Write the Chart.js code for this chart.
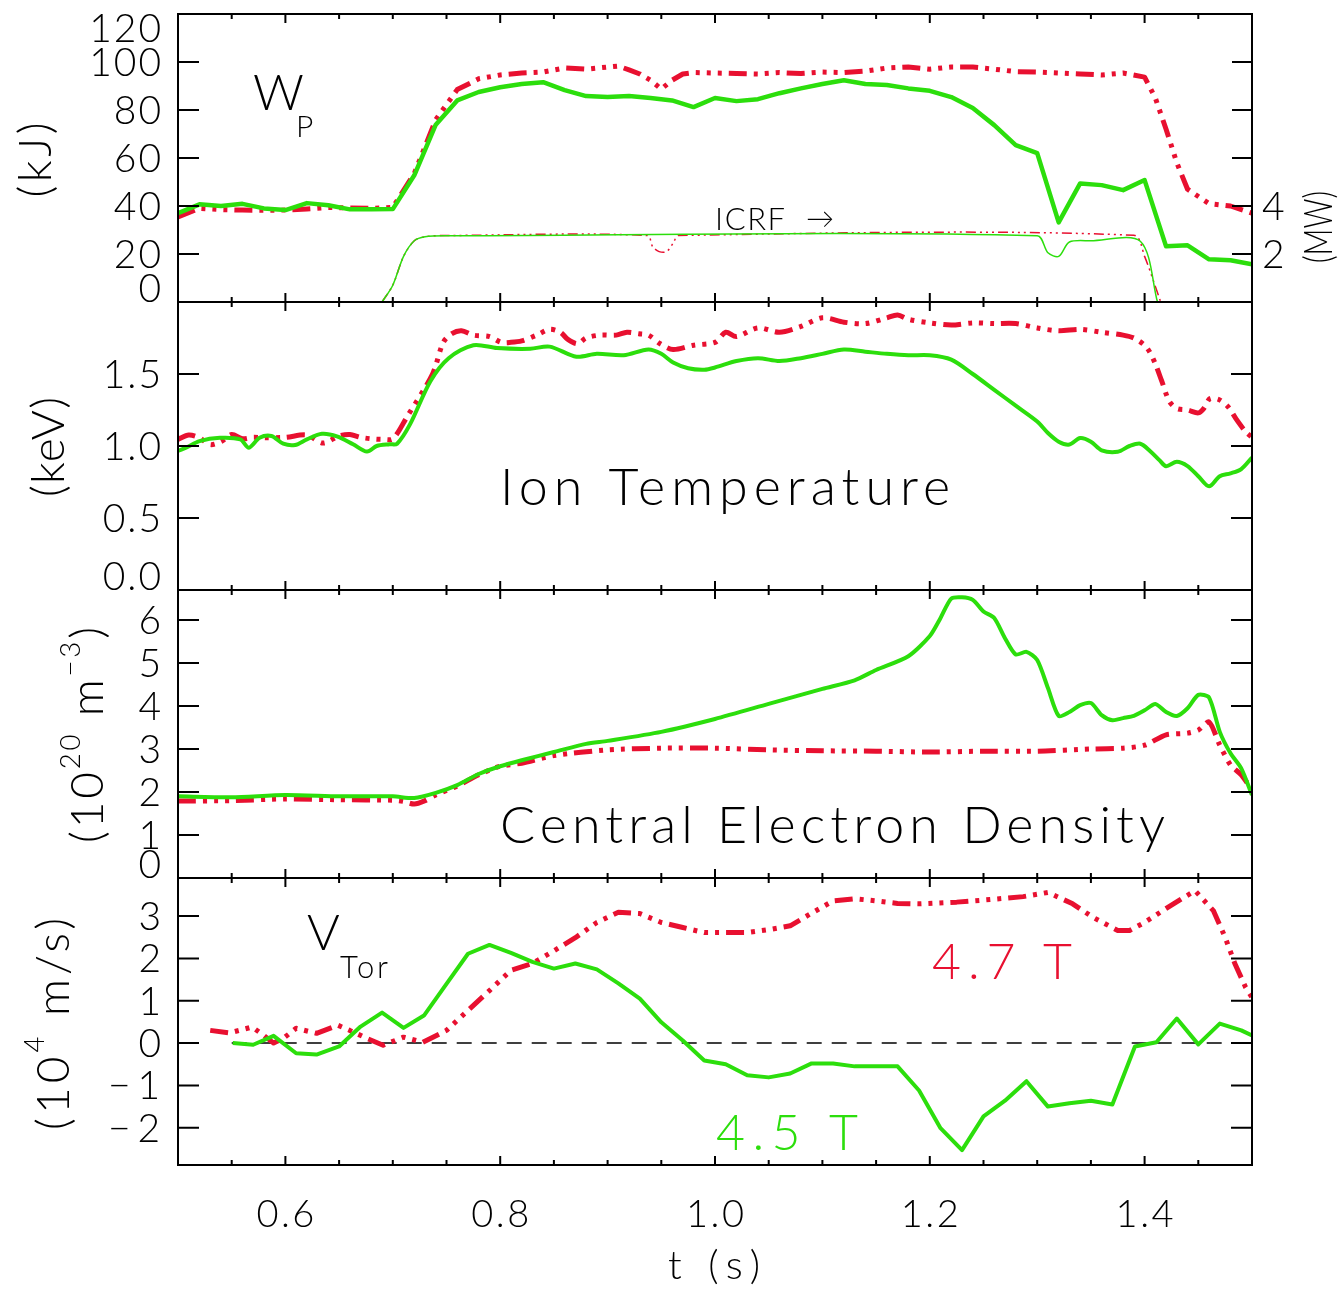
<!DOCTYPE html>
<html>
<head>
<meta charset="utf-8">
<script src="https://cdn.jsdelivr.net/npm/chart.js@4.4.1/dist/chart.umd.min.js"></script>
<style>
  html, body { margin: 0; padding: 0; background: #fff; }
  #wrap { position: relative; width: 1342px; height: 1291px; }
  #wrap canvas { position: absolute; left: 0; top: 0; }
</style>
</head>
<body>
<div id="wrap">
  <canvas id="c1" width="1342" height="1291"></canvas>
  <canvas id="c2" width="1342" height="1291"></canvas>
  <canvas id="c3" width="1342" height="1291"></canvas>
  <canvas id="c4" width="1342" height="1291"></canvas>
</div>
<script>
// ---- data ----
// stored energy W_P (kJ), 4.5 T shot (green)
const wpTime45 = [0.50,0.52,0.54,0.56,0.58,0.60,0.62,0.64,0.66,0.68,0.70,0.72,0.74,0.76,0.78,0.80,0.82,0.84,0.86,0.88,0.90,0.92,0.94,0.96,0.98,1.00,1.02,1.04,1.06,1.08,1.10,1.12,1.14,1.16,1.18,1.20,1.22,1.24,1.26,1.28,1.30,1.32,1.34,1.36,1.38,1.40,1.42,1.44,1.46,1.48,1.50];
const wp45 = [37,40.7,40,40.9,39,38.3,41.2,40.3,38.6,38.6,38.7,52.8,73.9,84,87.5,89.5,90.8,91.6,88.3,85.8,85.4,85.8,85,84,81.2,85,83.7,84.5,87,89,90.8,92.4,90.8,90.4,89,88,85.4,80.8,73.7,65.4,62,33.2,49.4,48.7,46.6,50.8,23.2,23.6,17.8,17.4,15.7];
// stored energy, 4.7 T shot (red)
const wpTime47 = [0.50,0.52,0.54,0.56,0.58,0.60,0.62,0.64,0.66,0.68,0.70,0.72,0.74,0.76,0.78,0.80,0.82,0.84,0.86,0.88,0.90,0.91,0.92,0.93,0.94,0.95,0.96,0.97,0.98,1.00,1.02,1.04,1.06,1.08,1.10,1.12,1.14,1.16,1.18,1.20,1.22,1.24,1.26,1.28,1.30,1.32,1.34,1.36,1.38,1.40,1.41,1.42,1.43,1.44,1.46,1.48,1.50];
const wp47 = [35.5,39,38.5,38.3,38.2,38.3,38.8,39.4,39.2,39,39.4,53.5,76,88.5,93,94.6,95.4,95.8,97.5,97,97.9,98.3,96.7,95,92.4,88.7,92.4,95,95.6,95.4,95.2,95,95.6,95.2,95.8,95.6,96.2,97.5,97.9,97,97.9,97.9,97,96,95.8,95.4,95,94.6,95.4,93.7,85,72,58,47,41,40,37];
// ICRF power (MW)
const icrfTime45 = [0.69,0.70,0.71,0.72,0.73,0.75,1.30,1.31,1.32,1.33,1.35,1.396,1.412];
const icrf45 = [0,0.7,1.9,2.55,2.72,2.76,2.76,2.05,1.9,2.5,2.55,2.53,0];
const icrfTime47 = [0.69,0.70,0.71,0.72,0.73,0.75,0.937,0.942,0.948,0.955,0.961,0.966,1.39,1.40,1.415];
const icrf47 = [0,0.7,1.9,2.55,2.72,2.77,2.77,2.3,2.1,2.1,2.45,2.77,2.78,1.9,0];

// ion temperature (keV)
const tiTime45 = [0.50,0.508,0.52,0.539,0.558,0.566,0.576,0.587,0.598,0.609,0.62,0.634,0.648,0.663,0.676,0.685,0.697,0.704,0.716,0.735,0.752,0.775,0.797,0.828,0.846,0.871,0.89,0.915,0.938,0.95,0.961,0.975,0.99,1.00,1.02,1.04,1.06,1.08,1.10,1.12,1.14,1.16,1.18,1.20,1.22,1.24,1.26,1.28,1.30,1.31,1.32,1.33,1.34,1.35,1.36,1.375,1.386,1.396,1.405,1.414,1.42,1.43,1.44,1.45,1.46,1.47,1.48,1.49,1.50];
const ti45 = [0.966,0.99,1.034,1.057,1.046,0.988,1.057,1.069,1.016,1.007,1.046,1.085,1.067,1.012,0.961,1.0,1.012,1.016,1.15,1.45,1.61,1.70,1.68,1.675,1.69,1.62,1.64,1.63,1.67,1.64,1.58,1.54,1.53,1.545,1.59,1.61,1.59,1.61,1.64,1.67,1.655,1.64,1.63,1.63,1.60,1.50,1.39,1.28,1.17,1.09,1.03,1.01,1.055,1.03,0.97,0.96,1.0,1.016,0.966,0.90,0.86,0.89,0.86,0.79,0.72,0.79,0.81,0.84,0.92];
const tiTime47 = [0.50,0.51,0.52,0.53,0.54,0.55,0.56,0.57,0.58,0.60,0.62,0.635,0.65,0.66,0.67,0.68,0.69,0.70,0.713,0.737,0.747,0.755,0.764,0.775,0.79,0.801,0.81,0.82,0.834,0.846,0.856,0.863,0.872,0.88,0.893,0.908,0.918,0.929,0.938,0.949,0.961,0.98,1.00,1.01,1.02,1.04,1.06,1.08,1.10,1.12,1.14,1.16,1.17,1.18,1.20,1.22,1.24,1.26,1.28,1.30,1.32,1.34,1.36,1.38,1.39,1.40,1.405,1.41,1.416,1.423,1.43,1.44,1.45,1.455,1.461,1.47,1.478,1.485,1.494,1.50];
const ti47 = [1.046,1.076,1.057,1.01,1.03,1.08,1.05,1.06,1.057,1.06,1.076,1.02,1.07,1.08,1.06,1.05,1.046,1.05,1.2,1.5,1.72,1.78,1.80,1.77,1.76,1.72,1.72,1.73,1.77,1.81,1.79,1.74,1.71,1.75,1.77,1.77,1.79,1.78,1.77,1.71,1.67,1.70,1.72,1.79,1.76,1.82,1.79,1.83,1.89,1.86,1.85,1.89,1.91,1.88,1.855,1.84,1.855,1.85,1.85,1.82,1.80,1.81,1.79,1.77,1.75,1.70,1.65,1.57,1.45,1.31,1.26,1.25,1.23,1.26,1.33,1.32,1.27,1.19,1.10,1.06];

// central electron density (1e20 m^-3)
const neTime45 = [0.50,0.55,0.60,0.65,0.70,0.72,0.74,0.76,0.78,0.80,0.82,0.85,0.88,0.90,0.95,1.00,1.05,1.10,1.13,1.15,1.18,1.20,1.21,1.22,1.23,1.24,1.25,1.26,1.27,1.28,1.29,1.30,1.31,1.32,1.33,1.34,1.35,1.36,1.37,1.38,1.39,1.40,1.41,1.42,1.43,1.44,1.45,1.46,1.47,1.48,1.49,1.50];
const ne45 = [1.9,1.88,1.93,1.9,1.9,1.86,1.98,2.16,2.42,2.6,2.74,2.93,3.12,3.19,3.4,3.7,4.05,4.4,4.6,4.84,5.16,5.63,6.05,6.5,6.53,6.47,6.2,6.05,5.58,5.2,5.26,5.07,4.42,3.77,3.86,4.02,4.07,3.79,3.67,3.72,3.77,3.9,4.05,3.86,3.77,3.95,4.26,4.2,3.4,2.9,2.55,1.93];
const neTime47 = [0.50,0.55,0.60,0.65,0.70,0.71,0.72,0.73,0.74,0.76,0.78,0.80,0.82,0.85,0.90,0.95,1.00,1.05,1.10,1.15,1.20,1.25,1.30,1.35,1.38,1.40,1.42,1.44,1.45,1.46,1.47,1.48,1.49,1.50];
const ne47 = [1.79,1.80,1.84,1.82,1.81,1.78,1.72,1.8,1.93,2.14,2.4,2.6,2.67,2.85,2.98,3.02,3.02,2.98,2.96,2.95,2.93,2.95,2.95,3.0,3.02,3.09,3.33,3.37,3.44,3.63,3.09,2.63,2.4,2.05];

// toroidal rotation (1e4 m/s)
const vTime45 = [0.551,0.57,0.589,0.61,0.629,0.65,0.67,0.69,0.71,0.729,0.75,0.77,0.79,0.81,0.83,0.85,0.87,0.89,0.91,0.93,0.95,0.97,0.99,1.01,1.03,1.05,1.07,1.09,1.11,1.13,1.15,1.17,1.19,1.21,1.23,1.25,1.27,1.29,1.31,1.33,1.35,1.37,1.391,1.411,1.43,1.45,1.47,1.49,1.50];
const v45 = [0,-0.04,0.17,-0.24,-0.27,-0.08,0.39,0.72,0.36,0.65,1.4,2.11,2.32,2.13,1.92,1.76,1.88,1.74,1.41,1.05,0.49,0.06,-0.41,-0.5,-0.76,-0.81,-0.72,-0.48,-0.48,-0.55,-0.55,-0.55,-1.12,-2.01,-2.53,-1.73,-1.36,-0.9,-1.5,-1.42,-1.36,-1.45,-0.08,0.02,0.58,-0.03,0.46,0.3,0.18];
const vTime47 = [0.53,0.548,0.569,0.579,0.589,0.598,0.61,0.629,0.649,0.66,0.676,0.691,0.71,0.728,0.75,0.77,0.79,0.81,0.83,0.85,0.87,0.89,0.91,0.93,0.95,0.97,0.99,1.01,1.03,1.05,1.07,1.09,1.11,1.13,1.15,1.17,1.19,1.225,1.256,1.287,1.31,1.333,1.352,1.375,1.386,1.40,1.417,1.434,1.447,1.464,1.475,1.484,1.494,1.50];
const v47 = [0.3,0.24,0.38,0.2,0,0.11,0.35,0.23,0.42,0.3,0.11,-0.05,0.14,0.02,0.3,0.77,1.24,1.72,1.88,2.18,2.49,2.85,3.09,3.06,2.85,2.73,2.61,2.61,2.61,2.68,2.77,3.07,3.36,3.41,3.36,3.3,3.29,3.33,3.39,3.46,3.56,3.29,2.97,2.66,2.66,2.85,3.13,3.4,3.6,3.13,2.5,1.88,1.32,1.08];
const zeroTime = [0.55, 1.5];
const zeroLine = [0, 0];

// ticks
const tMajor = [0.6, 0.8, 1.0, 1.2, 1.4];
const tMinor = [0.55,0.65,0.7,0.75,0.85,0.9,0.95,1.05,1.1,1.15,1.25,1.3,1.35,1.45];
const wpTicks = [0, 20, 40, 60, 80, 100, 120];
const mwTicks = [2, 4, 6, 8, 10];
const mwLabels = [2, 4];
const tiTicks = [0, 0.5, 1.0, 1.5];
const neTicks = [0, 1, 2, 3, 4, 5, 6];
const vTicks = [-2, -1, 0, 1, 2, 3];

// ---- drawing setup ----
const FAM = 'Lato, "DejaVu Sans", sans-serif';
const RED = 'rgb(232, 16, 48)';
const GREEN = 'rgb(44, 222, 12)';
const DASH3 = [18, 7, 4, 7, 4, 7, 4, 7];
const W = 1342, H = 1291;

function pts(ts, vs) {
  return ts.map((t, i) => ({ x: t, y: vs[i] }));
}

function fitText(ctx, str, x, base, w, size, color) {
  ctx.save();
  ctx.font = `300 ${size}px ${FAM}`;
  ctx.letterSpacing = '0px';
  const m = ctx.measureText(str).width;
  const n = [...str].length;
  const ls = n > 1 ? (w - m) / (n - 1) : 0;
  ctx.letterSpacing = ls + 'px';
  ctx.fillStyle = color;
  ctx.textAlign = 'left';
  ctx.textBaseline = 'alphabetic';
  ctx.fillText(str, x, base);
  ctx.restore();
}

// rotated axis title, runs may be superscripts
function vTitle(ctx, runs, cx, cy, len, size, supRise) {
  ctx.save();
  ctx.translate(cx, cy);
  ctx.rotate(-Math.PI / 2);
  ctx.fillStyle = '#000';
  ctx.textBaseline = 'alphabetic';
  const supSize = size * 0.6;
  let total = 0, nch = 0;
  runs.forEach(r => {
    ctx.font = `300 ${r.sup ? supSize : size}px ${FAM}`;
    ctx.letterSpacing = '0px';
    r.w = ctx.measureText(r.t).width;
    total += r.w;
    nch += [...r.t].length;
  });
  let ls = (len - total) / Math.max(1, nch - 1);
  if (ls < 0) {
    // squeeze instead of overlapping glyphs
    ctx.scale(len / total, 1);
    len = total;
    ls = 0;
  }
  const base = size * 0.3;
  let x = -len / 2;
  runs.forEach(r => {
    ctx.font = `300 ${r.sup ? supSize : size}px ${FAM}`;
    ctx.letterSpacing = ls + 'px';
    ctx.fillText(r.t, x, r.sup ? base - size * supRise : base);
    x += r.w + ls * [...r.t].length;
  });
  ctx.restore();
}

function yLabel(ctx, str, y, top, bottom) {
  const size = 39;
  const c = Math.min(Math.max(y, top + 14), bottom - 14);
  const base = c + size * 0.36;
  if (str.startsWith('\u2212')) {
    fitText(ctx, str, 108, base, 52, size, '#000');
  } else {
    ctx.save();
    ctx.font = `300 ${size}px ${FAM}`;
    ctx.letterSpacing = '2px';
    const w = ctx.measureText(str).width - 2;
    ctx.fillStyle = '#000';
    ctx.textAlign = 'left';
    ctx.fillText(str, 161 - w, base);
    ctx.restore();
  }
}

function framePlugin(cfg) {
  return {
    id: 'frame' + cfg.id,
    afterDraw(chart) {
      const ctx = chart.ctx, a = chart.chartArea;
      const xs = chart.scales.x, ys = chart.scales.y;
      ctx.save();
      ctx.strokeStyle = '#000';
      ctx.lineWidth = 2;
      ctx.strokeRect(a.left, a.top, a.right - a.left, a.bottom - a.top);
      ctx.beginPath();
      tMinor.forEach(t => {
        const x = xs.getPixelForValue(t);
        ctx.moveTo(x, a.top); ctx.lineTo(x, a.top + 5);
        ctx.moveTo(x, a.bottom); ctx.lineTo(x, a.bottom - 5);
      });
      tMajor.forEach(t => {
        const x = xs.getPixelForValue(t);
        ctx.moveTo(x, a.top); ctx.lineTo(x, a.top + 9);
        ctx.moveTo(x, a.bottom); ctx.lineTo(x, a.bottom - 9);
      });
      cfg.ticks.forEach(v => {
        if (v <= ys.min + 1e-9 || v >= ys.max - 1e-9) return;
        const y = ys.getPixelForValue(v);
        ctx.moveTo(a.left, y); ctx.lineTo(a.left + 21, y);
        if (!cfg.mw) { ctx.moveTo(a.right, y); ctx.lineTo(a.right - 21, y); }
      });
      if (cfg.mw) {
        const yr = chart.scales.yr;
        mwTicks.forEach(v => {
          const y = yr.getPixelForValue(v);
          ctx.moveTo(a.right, y); ctx.lineTo(a.right - 20, y);
        });
      }
      ctx.stroke();

      cfg.ticks.forEach(v => {
        yLabel(ctx, cfg.fmt(v), ys.getPixelForValue(v), a.top, a.bottom);
      });
      if (cfg.mw) {
        const yr = chart.scales.yr;
        ctx.font = `300 39px ${FAM}`;
        ctx.fillStyle = '#000';
        ctx.textAlign = 'left';
        mwLabels.forEach(v => ctx.fillText(String(v), 1262, yr.getPixelForValue(v) + 14));
      }
      if (cfg.xLabels) {
        tMajor.forEach(t => {
          const x = xs.getPixelForValue(t);
          fitText(ctx, t.toFixed(1), x - 29, 1227, 58, 38, '#000');
        });
        fitText(ctx, 't (s)', 668, 1279, 92, 40, '#000');
      }
      cfg.extra(ctx);
      ctx.restore();
    }
  };
}

function makePanel(id, box, datasets, yMin, yMax, cfg) {
  const scales = {
    x: {
      type: 'linear', min: 0.5, max: 1.5,
      grid: { display: false }, border: { display: false }, ticks: { display: false },
      afterFit: s => { s.height = 0; }
    },
    y: {
      type: 'linear', position: 'left', min: yMin, max: yMax,
      grid: { display: false }, border: { display: false }, ticks: { display: false },
      afterFit: s => { s.width = 178; }
    }
  };
  if (cfg.mw) {
    scales.yr = {
      type: 'linear', position: 'right', min: 0, max: 12,
      grid: { display: false }, border: { display: false }, ticks: { display: false },
      afterFit: s => { s.width = W - 1252; }
    };
  }
  return new Chart(document.getElementById(id), {
    type: 'line',
    data: { datasets },
    options: {
      responsive: false,
      animation: false,
      layout: { padding: { left: 0, right: cfg.mw ? 0 : W - 1252, top: box.top, bottom: H - box.bottom } },
      plugins: { legend: { display: false }, tooltip: { enabled: false } },
      elements: { point: { radius: 0 }, line: { borderJoinStyle: 'round', borderCapStyle: 'butt' } },
      scales
    },
    plugins: [framePlugin(cfg)]
  });
}

// panel 1: stored energy + ICRF power
makePanel('c1', { top: 14, bottom: 302 }, [
  { data: pts(wpTime45, wp45), borderColor: GREEN, borderWidth: 4.5, yAxisID: 'y' },
  { data: pts(wpTime47, wp47), borderColor: RED, borderWidth: 5, borderDash: DASH3, yAxisID: 'y' },
  { data: pts(icrfTime45, icrf45), borderColor: GREEN, borderWidth: 1.5, yAxisID: 'yr', tension: 0.3 },
  { data: pts(icrfTime47, icrf47), borderColor: RED, borderWidth: 1.5, borderDash: [10, 4, 2, 4, 2, 4, 2, 4], yAxisID: 'yr', tension: 0.3 }
], 0, 120, {
  id: 1, ticks: wpTicks, fmt: v => String(v), mw: true,
  extra: ctx => {
    fitText(ctx, 'W', 253, 110, 38, 50, '#000');
    fitText(ctx, 'P', 296, 137, 19, 30, '#000');
    fitText(ctx, 'ICRF', 715, 230, 70, 31, '#000');
    fitText(ctx, '\u2192', 806, 228, 24, 28, '#000');
    vTitle(ctx, [{ t: '(kJ)' }], 37, 160, 75, 46, 0.5);
    vTitle(ctx, [{ t: '(MW)' }], 1320, 227, 72, 40, 0.5);
  }
});

// panel 2: ion temperature
makePanel('c2', { top: 302, bottom: 590 }, [
  { data: pts(tiTime45, ti45), borderColor: GREEN, borderWidth: 4, tension: 0.3 },
  { data: pts(tiTime47, ti47), borderColor: RED, borderWidth: 5, borderDash: DASH3, tension: 0.3 }
], 0, 2.0, {
  id: 2, ticks: tiTicks, fmt: v => v.toFixed(1),
  extra: ctx => {
    fitText(ctx, 'Ion Temperature', 500, 505, 450, 52, '#000');
    vTitle(ctx, [{ t: '(keV)' }], 50, 447, 100, 46, 0.5);
  }
});

// panel 3: central electron density
makePanel('c3', { top: 590, bottom: 878 }, [
  { data: pts(neTime45, ne45), borderColor: GREEN, borderWidth: 4, tension: 0.25 },
  { data: pts(neTime47, ne47), borderColor: RED, borderWidth: 5, borderDash: DASH3, tension: 0.25 }
], 0, 6.7, {
  id: 3, ticks: neTicks, fmt: v => String(v),
  extra: ctx => {
    fitText(ctx, 'Central Electron Density', 500, 843, 665, 52, '#000');
    vTitle(ctx, [{ t: '(10' }, { t: '20', sup: true }, { t: ' m' }, { t: '\u22123', sup: true }, { t: ')' }], 89, 735, 216, 46, 0.5);
  }
});

// panel 4: toroidal rotation
makePanel('c4', { top: 878, bottom: 1165 }, [
  { data: pts(vTime45, v45), borderColor: GREEN, borderWidth: 4 },
  { data: pts(vTime47, v47), borderColor: RED, borderWidth: 5, borderDash: DASH3 },
  { data: pts(zeroTime, zeroLine), borderColor: '#000', borderWidth: 1.5, borderDash: [15, 10] }
], -2.88, 3.9, {
  id: 4, ticks: vTicks, fmt: v => (v < 0 ? '\u2212' + Math.abs(v) : String(v)), xLabels: true,
  extra: ctx => {
    fitText(ctx, 'V', 307, 950, 29, 50, '#000');
    fitText(ctx, 'Tor', 340, 978, 48, 31, '#000');
    fitText(ctx, '4.7 T', 932, 979, 140, 50, RED);
    fitText(ctx, '4.5 T', 716, 1150, 142, 50, GREEN);
    vTitle(ctx, [{ t: '(10' }, { t: '4', sup: true }, { t: ' m/s)' }], 55, 1024, 212, 46, 0.55);
  }
});
</script>
</body>
</html>
